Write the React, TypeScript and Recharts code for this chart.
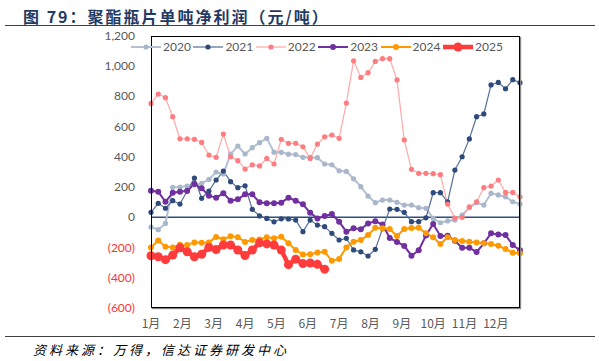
import { LineChart, Line, XAxis, YAxis, ReferenceLine } from "recharts";

const monthLabels = ["1月", "2月", "3月", "4月", "5月", "6月", "7月", "8月", "9月", "10月", "11月", "12月"];
const yTicks = [-600, -400, -200, 0, 200, 400, 600, 800, 1000, 1200];

const y2020 = [-64, -82, -40, 199, 200, 207, 214, 225, 251, 300, 287, 418, 472, 419, 461, 494, 523, 431, 430, 418, 415, 397, 397, 395, 353, 348, 308, 304, 255, 203, 141, 97, 114, 114, 99, 81, 81, 64, 60, -7, -36, -24, -18, 15, 64, 97, 81, 159, 148, 136, 103, 88];
const y2021 = [33, 93, 60, 110, 88, 174, 260, 126, 174, 247, 306, 236, 196, 209, 53, 9, -7, -30, -10, -11, -18, -95, -18, -51, -62, -106, -150, -139, -216, -228, -256, -212, -75, 55, 53, 33, -29, -29, -3, 163, 163, 103, 313, 401, 519, 666, 684, 876, 893, 851, 911, 891];
const y2022 = [754, 816, 792, 666, 520, 520, 516, 496, 412, 397, 551, 401, 375, 320, 348, 340, 390, 353, 516, 490, 490, 467, 390, 485, 533, 545, 523, 756, 1036, 926, 957, 1032, 1050, 1050, 909, 512, 318, 291, 291, 289, 282, 88, -5, 0, 70, 103, 196, 207, 247, 165, 165, 136];
const y2023 = [176, 170, 103, 163, 170, 176, 220, 192, 143, 130, 159, 110, 119, 152, 152, 99, 93, 93, 97, 130, 110, 86, 30, -7, 9, 22, -29, -95, -73, -79, -40, -26, -48, -137, -163, -189, -254, -218, -120, -44, -123, -122, -155, -201, -201, -230, -172, -106, -113, -117, -183, -218];
const y2024 = [-199, -153, -194, -199, -182, -183, -166, -168, -166, -130, -145, -126, -132, -163, -150, -146, -132, -139, -128, -172, -216, -246, -244, -233, -228, -288, -275, -199, -161, -150, -117, -69, -73, -78, -124, -77, -71, -69, -106, -132, -177, -132, -150, -157, -161, -166, -172, -177, -188, -210, -234, -238];
const y2025 = [-254, -261, -280, -250, -202, -228, -261, -244, -199, -213, -183, -183, -216, -253, -216, -169, -176, -183, -216, -313, -277, -306, -302, -311, -343];

const series = [
    { key: "2020", values: y2020, stroke: "#b4c0d1", dotFill: "#a9b7ca", width: 2, r: 2.6 },
    { key: "2021", values: y2021, stroke: "#5b7399", dotFill: "#2e4a7a", width: 1.25, r: 2.6 },
    { key: "2022", values: y2022, stroke: "#ffabab", dotFill: "#ff7c80", width: 1.25, r: 2.6 },
    { key: "2023", values: y2023, stroke: "#7030a0", dotFill: "#7030a0", width: 2, r: 3 },
    { key: "2024", values: y2024, stroke: "#ff9900", dotFill: "#ff9900", width: 2, r: 3 },
    { key: "2025", values: y2025, stroke: "#ff3b3b", dotFill: "#ff3b3b", width: 4.5, r: 4.5 },
];

const data = y2020.map((_, i) => {
    const row: Record<string, number | undefined> = { w: i };
    series.forEach((s) => {
        row[s.key] = s.values[i];
    });
    return row;
});

const monthTicks = monthLabels.map((_, i) => (i * 52) / 12);

const numFont = "Lato, 'Liberation Sans', sans-serif";
const cjkFont = "'Noto Sans CJK SC', sans-serif";

function YTick({ x, y, payload }: any) {
    const v = payload.value as number;
    const neg = v < 0;
    const label = neg ? `(${Math.abs(v)})` : v.toLocaleString("en-US");
    return (
        <text x={x - 8} y={y} dy={4} textAnchor="end" fontSize={12} fontFamily={numFont} fill={neg ? "#ff3333" : "#595959"}>
            {label}
        </text>
    );
}

function XTick({ x, y, payload }: any) {
    const idx = monthTicks.findIndex((t) => Math.abs(t - payload.value) < 0.01);
    return (
        <text x={x} y={y} dy={12} textAnchor="middle" fontSize={12} fontFamily={cjkFont} fill="#595959">
            {monthLabels[idx]}
        </text>
    );
}

function LegendBox() {
    return (
        <div style={{ position: "absolute", left: 131, top: 40, height: 14 }}>
            {series.map((s, i) => (
                <div key={s.key} style={{ position: "absolute", left: i * 62.4, top: 0, display: "flex", alignItems: "center" }}>
                    <svg width={30} height={14}>
                        <line x1={0} y1={7} x2={30} y2={7} stroke={s.stroke} strokeWidth={s.width} />
                        <circle cx={15} cy={7} r={s.r} fill={s.dotFill} />
                    </svg>
                    <span style={{ marginLeft: 2, fontSize: 12, fontFamily: numFont, color: "#595959", lineHeight: "14px" }}>{s.key}</span>
                </div>
            ))}
        </div>
    );
}

export default function App() {
    return (
        <div style={{ position: "absolute", left: 0, top: 0, width: 599, height: 361, background: "#fff", overflow: "hidden" }}>
            <div
                style={{
                    position: "absolute",
                    left: 23,
                    top: 4,
                    fontSize: 16,
                    fontWeight: 700,
                    letterSpacing: 2,
                    color: "#1f3b63",
                    fontFamily: cjkFont,
                    whiteSpace: "nowrap",
                }}
            >
                图 79：聚酯瓶片单吨净利润（元/吨）
            </div>
            <div style={{ position: "absolute", left: 5, top: 25, width: 590, height: 1, background: "#404040" }} />
            <LineChart width={599} height={361} data={data} margin={{ top: 36, right: 79, bottom: 23, left: 91 }} style={{ position: "absolute", left: 0, top: 0 }}>
                <XAxis
                    dataKey="w"
                    type="number"
                    domain={[0, 51]}
                    ticks={monthTicks}
                    tick={<XTick />}
                    axisLine={false}
                    tickLine={false}
                    height={30}
                    interval={0}
                />
                <YAxis
                    type="number"
                    domain={[-600, 1200]}
                    ticks={yTicks}
                    tick={<YTick />}
                    axisLine={false}
                    tickLine={false}
                    width={60}
                    interval={0}
                />
                <ReferenceLine y={0} stroke="#2f4f7f" strokeWidth={1.5} />
                {series.map((s) => (
                    <Line
                        key={s.key}
                        dataKey={s.key}
                        type="linear"
                        stroke={s.stroke}
                        strokeWidth={s.width}
                        dot={{ r: s.r, fill: s.dotFill, stroke: "none" }}
                        activeDot={false}
                        isAnimationActive={false}
                    />
                ))}
            </LineChart>
            <div
                style={{
                    position: "absolute",
                    left: 151,
                    top: 36,
                    width: 369,
                    height: 272,
                    boxSizing: "border-box",
                    border: "1.5px solid #000",
                    boxShadow: "1px 1px 1px #888",
                    pointerEvents: "none",
                }}
            />
            <LegendBox />
            <div style={{ position: "absolute", left: 5, top: 336, width: 590, height: 1, background: "#404040" }} />
            <div
                style={{
                    position: "absolute",
                    left: 33,
                    top: 340,
                    fontSize: 13,
                    fontStyle: "italic",
                    letterSpacing: 3,
                    fontFamily: cjkFont,
                    color: "#000",
                    whiteSpace: "nowrap",
                }}
            >
                资料来源：万得，信达证券研发中心
            </div>
        </div>
    );
}
